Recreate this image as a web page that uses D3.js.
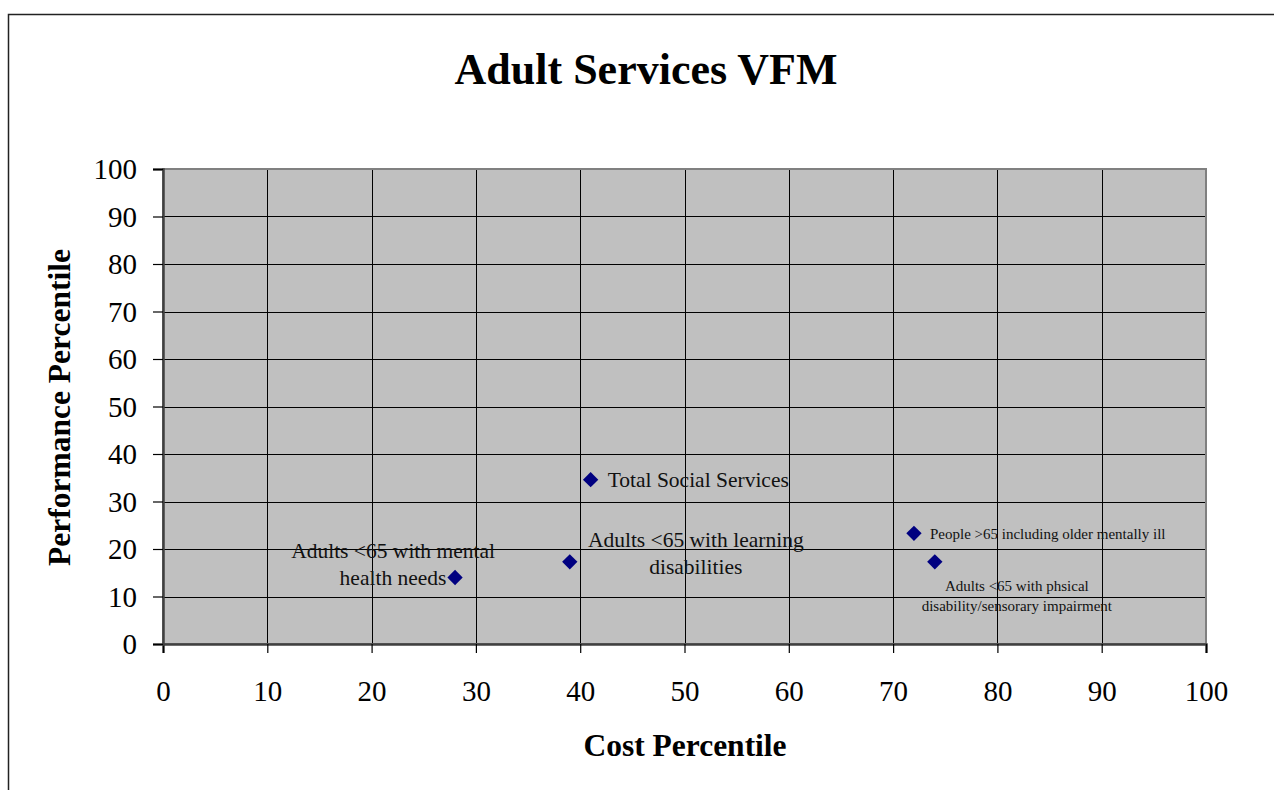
<!DOCTYPE html>
<html>
<head>
<meta charset="utf-8">
<script src="https://cdn.jsdelivr.net/npm/d3@7"></script>
<style>
body { margin: 0; background: #fff; }
svg { font-family: "Liberation Serif", "Times New Roman", serif; }
</style>
</head>
<body>
<svg id="drawing_region"></svg>
<script>
// data
const names = ['Adults <65 with mental health needs', 'Adults <65 with learning disabilities',
    'Total Social Services', 'People >65 including older mentally ill',
    'Adults <65 with phsical disability/sensorary impairment'];
const costValues = [28, 39, 41, 72, 74];
const perfValues = [14, 17.3, 34.6, 23.3, 17.3];
const tickValues = [0, 10, 20, 30, 40, 50, 60, 70, 80, 90, 100];

// label placement for each point (lines, offset, size, anchor)
const labelLines = [
    ['Adults <65 with mental', 'health needs'],
    ['Adults <65 with learning', 'disabilities'],
    ['Total Social Services'],
    ['People >65 including older mentally ill'],
    ['Adults <65 with phsical', 'disability/sensorary impairment']
];
const labelDx = [-62, 126, 17, 16, 82];
const labelDy = [-27, -22, 0, 0, 24];
const labelSize = [21.5, 21.5, 21.5, 15, 15];
const labelAnchor = ['middle', 'middle', 'start', 'start', 'middle'];
const lineGap = [27, 27, 0, 0, 20];

const config = {
    width: 1274,
    height: 790,
    margin: {top: 169, right: 68, bottom: 146, left: 163},
    title: 'Adult Services VFM'
};

const svg = d3.select('#drawing_region')
    .attr('width', config.width)
    .attr('height', config.height);

const innerW = config.width - config.margin.left - config.margin.right;
const innerH = config.height - config.margin.top - config.margin.bottom;

// outer frame
svg.append('rect')
    .attr('x', 8.5).attr('y', 14.5)
    .attr('width', 1300).attr('height', 900)
    .attr('fill', 'none').attr('stroke', '#222').attr('stroke-width', 1.5);

const xScale = d3.scaleLinear().domain([0, 100]).range([0, innerW]);
const yScale = d3.scaleLinear().domain([0, 100]).range([innerH, 0]);

const chart = svg.append('g')
    .attr('transform', `translate(${config.margin.left}, ${config.margin.top})`);

chart.append('rect')
    .attr('width', innerW).attr('height', innerH)
    .attr('fill', '#c0c0c0');

// grid
chart.selectAll('.vgrid').data(tickValues.slice(1, -1)).enter().append('line')
    .attr('x1', d => Math.round(xScale(d)) + 0.5).attr('x2', d => Math.round(xScale(d)) + 0.5)
    .attr('y1', 0).attr('y2', innerH)
    .attr('stroke', '#000').attr('stroke-width', 1);
chart.selectAll('.hgrid').data(tickValues.slice(1, -1)).enter().append('line')
    .attr('y1', d => Math.round(yScale(d)) + 0.5).attr('y2', d => Math.round(yScale(d)) + 0.5)
    .attr('x1', 0).attr('x2', innerW)
    .attr('stroke', '#000').attr('stroke-width', 1);

// plot border
chart.append('rect')
    .attr('width', innerW).attr('height', innerH)
    .attr('fill', 'none').attr('stroke', '#808080').attr('stroke-width', 2);

// axes
const xAxis = d3.axisBottom(xScale).tickValues(tickValues).tickSize(9).tickPadding(27);
const yAxis = d3.axisLeft(yScale).tickValues(tickValues).tickSize(10).tickPadding(16);

const gx = chart.append('g')
    .attr('transform', `translate(0, ${innerH})`)
    .call(xAxis);
const gy = chart.append('g').call(yAxis);

[gx, gy].forEach(g => {
    g.select('.domain').attr('stroke', '#404040').attr('stroke-width', 2.5);
    g.selectAll('.tick line').attr('stroke', '#000').attr('stroke-width', 1.2);
    g.selectAll('.tick text')
        .attr('fill', '#000')
        .attr('font-size', '29px')
        .attr('font-family', '"Liberation Serif", serif');
});
gy.selectAll('.tick text').attr('dy', '0.34em');

// points
const pts = chart.selectAll('.pt').data(names).enter().append('g')
    .attr('transform', (d, i) => `translate(${xScale(costValues[i])}, ${yScale(perfValues[i])})`);

pts.append('path')
    .attr('d', d3.symbol().type(d3.symbolDiamond2).size(150))
    .attr('fill', '#000080');

pts.each(function(d, i) {
    const t = d3.select(this).append('text')
        .attr('text-anchor', labelAnchor[i])
        .attr('font-size', labelSize[i] + 'px')
        .attr('fill', '#111');
    labelLines[i].forEach((line, j) => {
        t.append('tspan')
            .attr('x', labelDx[i])
            .attr('y', labelDy[i] + j * lineGap[i])
            .attr('dy', '0.35em')
            .text(line);
    });
});

// titles
svg.append('text')
    .attr('x', 646).attr('y', 84)
    .attr('text-anchor', 'middle')
    .attr('font-size', '44px').attr('font-weight', 'bold')
    .text(config.title);

svg.append('text')
    .attr('x', 685).attr('y', 756)
    .attr('text-anchor', 'middle')
    .attr('font-size', '31.5px').attr('font-weight', 'bold')
    .text('Cost Percentile');

svg.append('text')
    .attr('transform', `translate(70, ${config.margin.top + innerH / 2 + 1}) rotate(-90)`)
    .attr('text-anchor', 'middle')
    .attr('font-size', '31.5px').attr('font-weight', 'bold')
    .text('Performance Percentile');
</script>
</body>
</html>
